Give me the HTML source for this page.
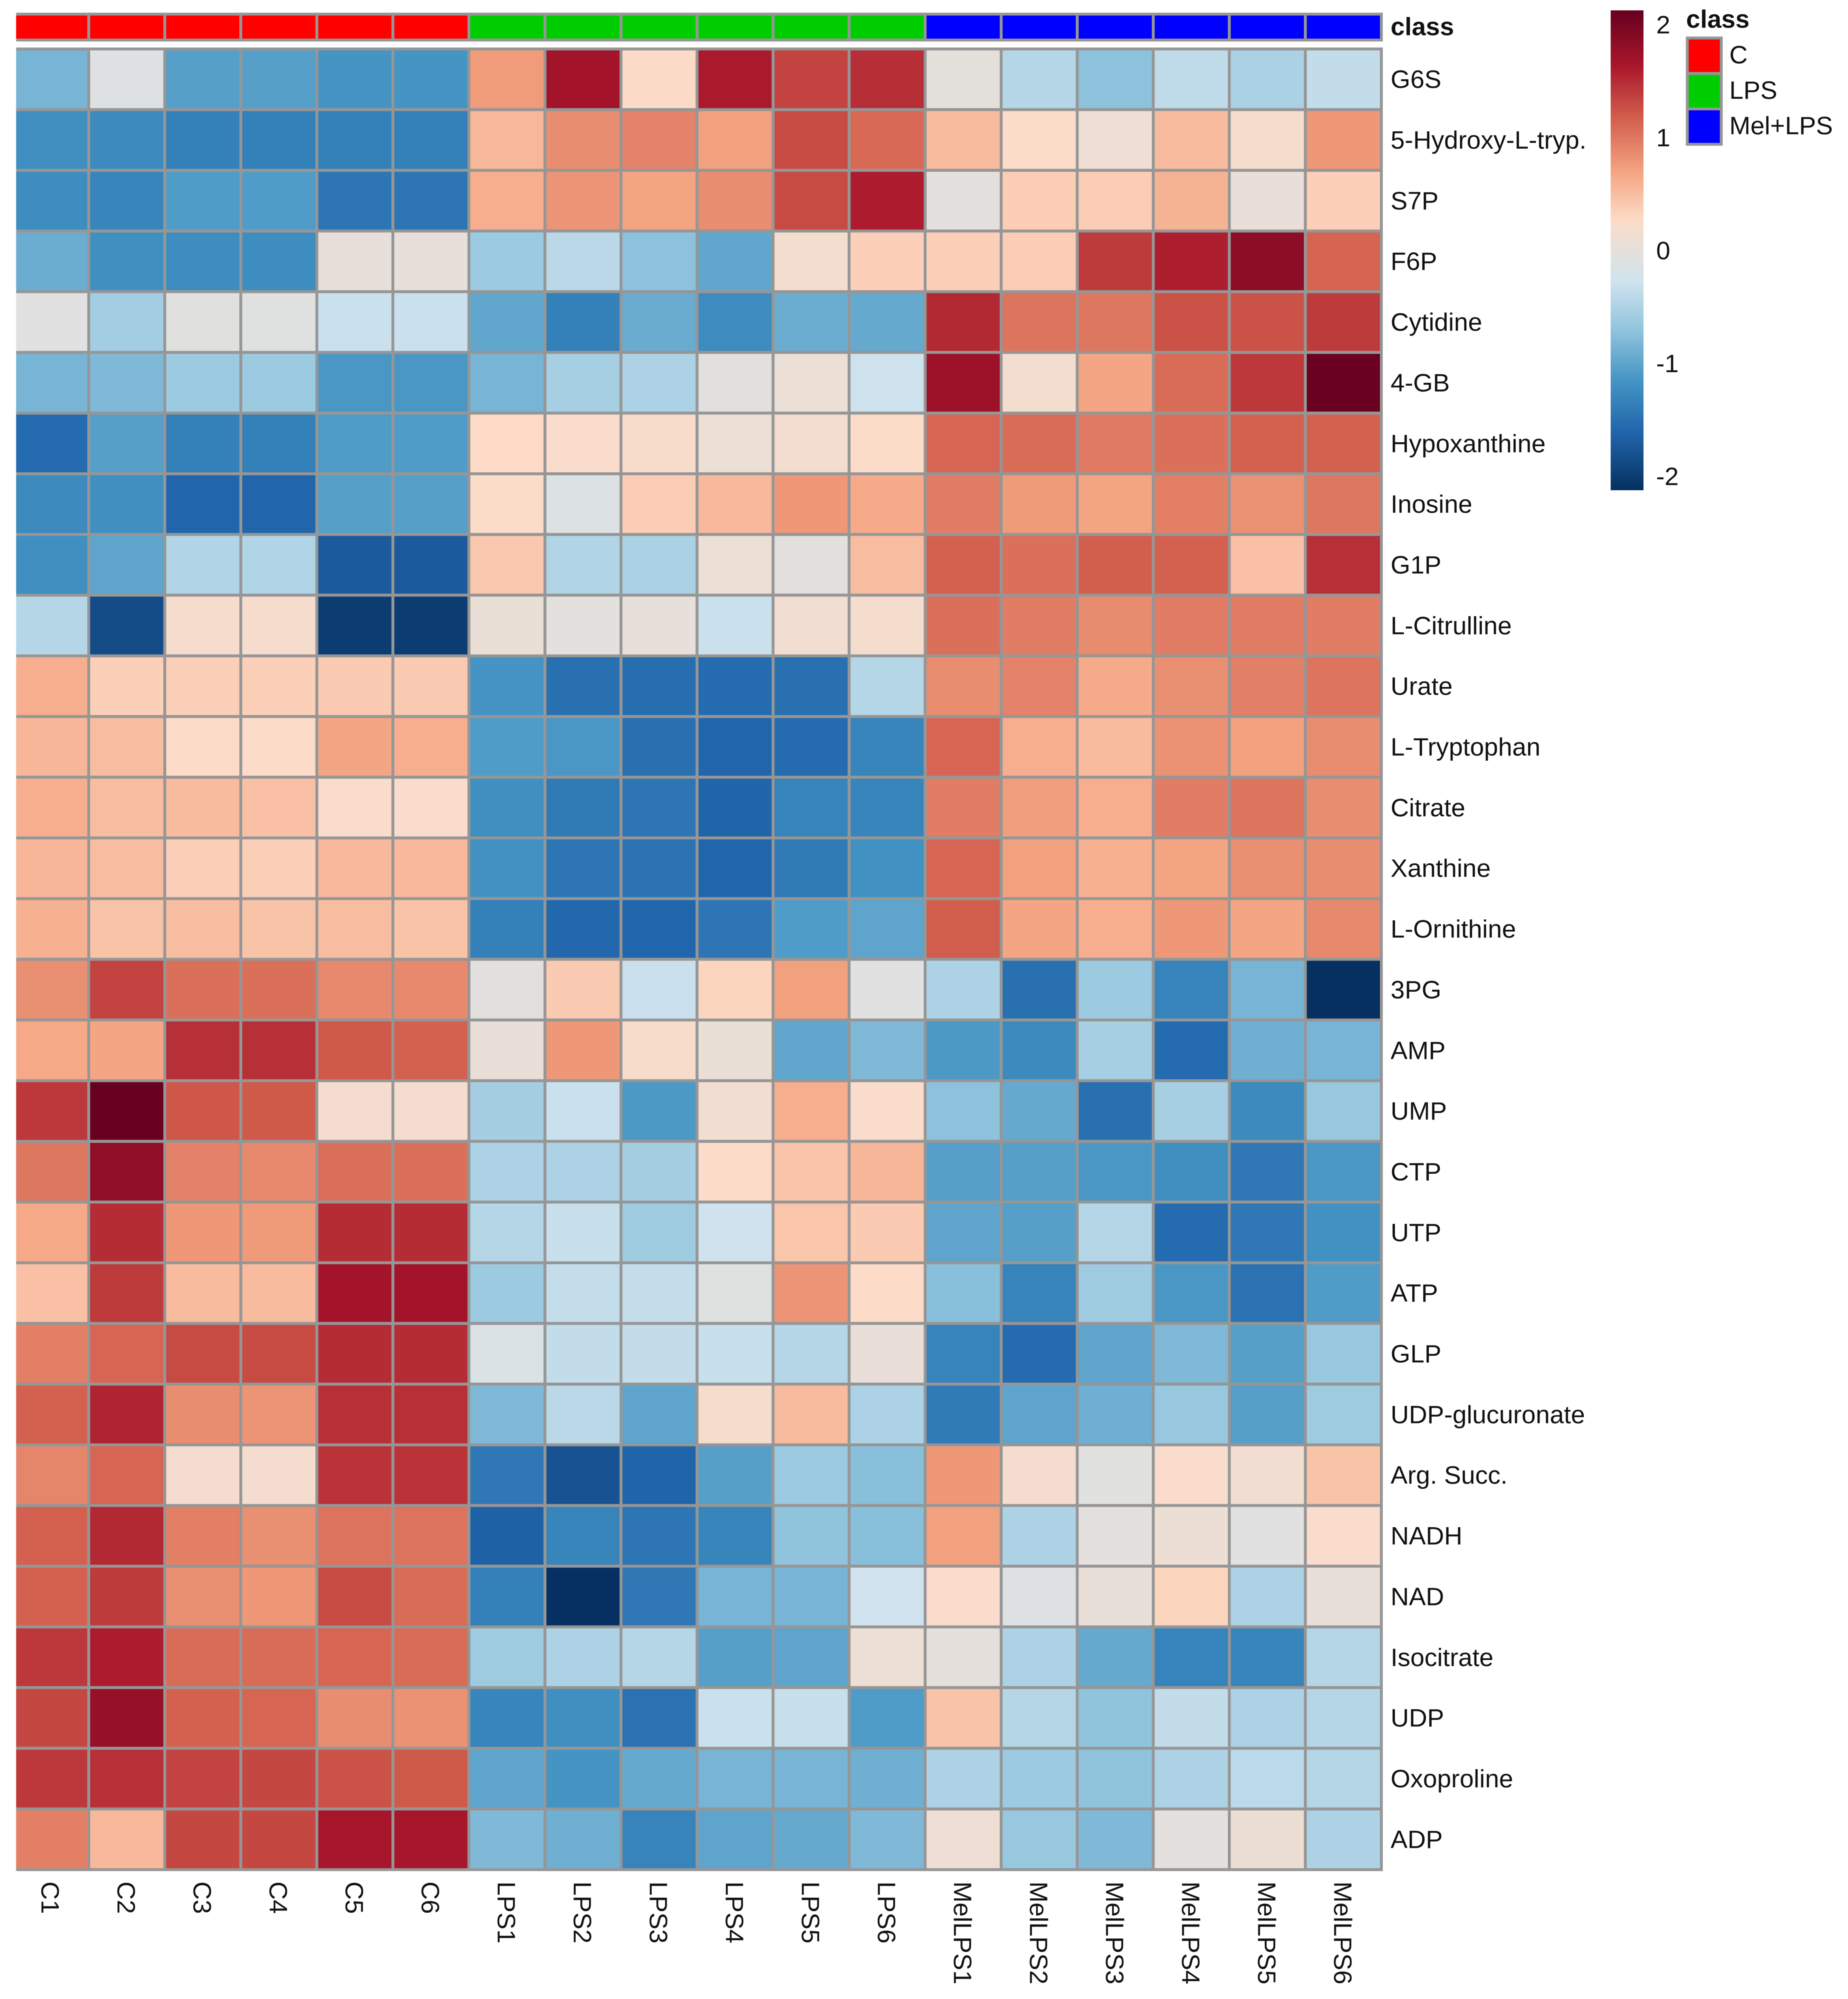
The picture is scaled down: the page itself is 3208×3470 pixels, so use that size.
<!DOCTYPE html>
<html lang="en">
<head>
<meta charset="utf-8">
<title>Metabolite heatmap</title>
<style>
html,body{margin:0;padding:0;background:#fff;width:3208px;height:3470px;overflow:hidden}
svg{display:block;font-family:"Liberation Sans",sans-serif;filter:blur(0.7px)}
text{fill:#111}
</style>
</head>
<body>
<svg id="chart" xmlns="http://www.w3.org/2000/svg" width="3208" height="3470" viewBox="0 0 3208 3470">
<defs>
<clipPath id="grid-clip"><rect x="28" y="0" width="2380" height="3400"/></clipPath>
<linearGradient id="scale-gradient" x1="0" y1="0" x2="0" y2="1"></linearGradient>
</defs>
<rect x="0" y="0" width="3208" height="3470" fill="#ffffff"/>
<g id="annotation" clip-path="url(#grid-clip)"></g>
<g id="cells" clip-path="url(#grid-clip)"></g>
<g id="rowlabels"></g>
<g id="collabels"></g>
<text x="2414" y="61" font-size="44" font-weight="700">class</text>
<rect id="scale-bar" x="2796" y="18" width="57" height="833" fill="url(#scale-gradient)"/>
<g id="scaleticks"></g>
<text x="2927" y="48" font-size="44" font-weight="700">class</text>
<g id="legend"></g>
</svg>
<script>
const rowNames = ["G6S","5-Hydroxy-L-tryp.","S7P","F6P","Cytidine","4-GB","Hypoxanthine","Inosine","G1P","L-Citrulline","Urate","L-Tryptophan","Citrate","Xanthine","L-Ornithine","3PG","AMP","UMP","CTP","UTP","ATP","GLP","UDP-glucuronate","Arg. Succ.","NADH","NAD","Isocitrate","UDP","Oxoproline","ADP"];
const colNames = ["C1","C2","C3","C4","C5","C6","LPS1","LPS2","LPS3","LPS4","LPS5","LPS6","MelLPS1","MelLPS2","MelLPS3","MelLPS4","MelLPS5","MelLPS6"];
const colClasses = ["C","C","C","C","C","C","LPS","LPS","LPS","LPS","LPS","LPS","Mel+LPS","Mel+LPS","Mel+LPS","Mel+LPS","Mel+LPS","Mel+LPS"];
const classNames = ["C","LPS","Mel+LPS"];
const classColors = ["#ff0000","#00cd00","#0000ff"];
const values = [
[-0.85,-0.1,-1.05,-1.05,-1.15,-1.15, 0.75,1.68,0.25,1.62,1.35,1.48, -0.02,-0.45,-0.72,-0.38,-0.52,-0.36],
[-1.2,-1.25,-1.35,-1.35,-1.35,-1.35, 0.55,0.85,0.92,0.72,1.3,1.1, 0.52,0.24,0.1,0.52,0.18,0.78],
[-1.22,-1.3,-1.08,-1.08,-1.45,-1.45, 0.62,0.8,0.7,0.85,1.3,1.6, -0.03,0.38,0.38,0.58,0.04,0.36],
[-0.92,-1.2,-1.22,-1.22,0.02,0.02, -0.62,-0.42,-0.72,-0.98,0.16,0.36, 0.36,0.38,1.4,1.58,1.85,1.13],
[-0.07,-0.58,-0.06,-0.08,-0.3,-0.3, -0.98,-1.35,-0.93,-1.24,-0.92,-0.95, 1.52,1.02,1.0,1.25,1.25,1.4],
[-0.85,-0.8,-0.62,-0.62,-1.12,-1.12, -0.85,-0.55,-0.5,-0.04,0.08,-0.28, 1.72,0.16,0.68,1.08,1.42,2.1],
[-1.55,-1.05,-1.35,-1.35,-1.08,-1.08, 0.27,0.22,0.2,0.08,0.15,0.24, 1.12,1.08,0.98,1.05,1.15,1.15],
[-1.25,-1.2,-1.6,-1.6,-1.05,-1.05, 0.24,-0.12,0.38,0.54,0.78,0.64, 0.96,0.76,0.7,0.95,0.82,1.0],
[-1.2,-1.0,-0.48,-0.48,-1.72,-1.72, 0.42,-0.48,-0.52,0.08,-0.04,0.5, 1.15,1.05,1.17,1.15,0.48,1.47],
[-0.45,-1.85,0.19,0.19,-2.0,-2.0, 0.05,-0.03,0.02,-0.3,0.14,0.18, 1.05,0.96,0.86,0.96,0.96,0.96],
[0.62,0.36,0.36,0.36,0.4,0.4, -1.15,-1.5,-1.52,-1.55,-1.5,-0.45, 0.85,0.92,0.64,0.84,0.94,1.02],
[0.56,0.5,0.26,0.26,0.68,0.62, -1.08,-1.12,-1.5,-1.6,-1.55,-1.3, 1.12,0.62,0.52,0.82,0.72,0.85],
[0.62,0.5,0.52,0.48,0.22,0.22, -1.2,-1.4,-1.45,-1.62,-1.32,-1.3, 0.96,0.74,0.62,0.96,1.02,0.85],
[0.56,0.5,0.36,0.36,0.54,0.54, -1.18,-1.45,-1.48,-1.6,-1.4,-1.18, 1.12,0.72,0.6,0.7,0.84,0.85],
[0.6,0.46,0.5,0.46,0.5,0.46, -1.35,-1.58,-1.6,-1.45,-1.08,-1.0, 1.18,0.68,0.62,0.78,0.68,0.88],
[0.84,1.35,1.05,1.05,0.88,0.88, -0.04,0.4,-0.3,0.32,0.72,-0.07, -0.5,-1.5,-0.62,-1.32,-0.85,-2.12],
[0.66,0.68,1.47,1.47,1.2,1.15, 0.04,0.78,0.2,0.05,-0.98,-0.8, -1.1,-1.25,-0.55,-1.55,-0.9,-0.85],
[1.42,2.12,1.22,1.2,0.17,0.17, -0.56,-0.3,-1.1,0.14,0.62,0.22, -0.72,-0.95,-1.5,-0.55,-1.25,-0.65],
[1.0,1.82,0.93,0.88,1.05,1.05, -0.5,-0.5,-0.56,0.26,0.45,0.56, -1.05,-1.05,-1.12,-1.2,-1.42,-1.12],
[0.66,1.5,0.78,0.76,1.5,1.5, -0.45,-0.32,-0.6,-0.27,0.44,0.4, -1.0,-1.05,-0.45,-1.55,-1.42,-1.18],
[0.48,1.4,0.52,0.52,1.68,1.68, -0.62,-0.35,-0.35,-0.08,0.8,0.26, -0.75,-1.32,-0.6,-1.12,-1.48,-1.08],
[0.95,1.12,1.3,1.3,1.5,1.5, -0.13,-0.36,-0.36,-0.32,-0.45,0.04, -1.32,-1.55,-1.0,-0.8,-1.05,-0.65],
[1.15,1.55,0.85,0.8,1.47,1.47, -0.8,-0.42,-1.0,0.18,0.52,-0.5, -1.4,-1.0,-0.9,-0.65,-1.05,-0.6],
[0.9,1.12,0.17,0.17,1.45,1.45, -1.42,-1.78,-1.62,-1.05,-0.62,-0.75, 0.78,0.17,-0.05,0.22,0.14,0.46],
[1.15,1.52,0.95,0.84,1.03,1.03, -1.65,-1.3,-1.45,-1.3,-0.7,-0.75, 0.72,-0.5,-0.03,0.09,-0.07,0.22],
[1.15,1.4,0.84,0.78,1.3,1.08, -1.35,-2.12,-1.42,-0.85,-0.85,-0.26, 0.22,-0.09,0.03,0.32,-0.5,0.03],
[1.42,1.6,1.08,1.08,1.12,1.08, -0.6,-0.5,-0.45,-1.05,-1.0,0.08, 0.0,-0.5,-0.95,-1.32,-1.3,-0.45],
[1.32,1.78,1.15,1.12,0.85,0.82, -1.3,-1.2,-1.48,-0.3,-0.32,-1.08, 0.46,-0.45,-0.7,-0.36,-0.5,-0.45],
[1.42,1.47,1.35,1.32,1.25,1.2, -1.0,-1.15,-0.95,-0.85,-0.85,-0.9, -0.5,-0.62,-0.7,-0.5,-0.4,-0.45],
[0.95,0.54,1.32,1.32,1.65,1.65, -0.8,-0.9,-1.32,-1.0,-0.95,-0.8, 0.1,-0.65,-0.8,-0.03,0.09,-0.5]
];
const scaleStopValues = [2.13,1.64,1.2,0.69,0.27,0,-0.26,-0.69,-1.16,-1.6,-2.12];
const scaleStopColors = ["#67001f","#a8162b","#d05a4a","#f4a582","#fddbc7","#e5e0db","#d1e3ee","#92c5de","#4393c3","#2166ac","#053061"];
const tickValues = [2,1,0,-1,-2];
const tickLabels = ["2","1","0","-1","-2"];

const NS = "http://www.w3.org/2000/svg";
const gridLeft = 22, colStep = 132, gridTop = 85, rowStep = 105.35;
const barTop = 24.5, barHeight = 45;
const scaleZeroY = 435, scalePerUnit = 196;
const gridLine = "#969696", gridWidth = 5;

function xAt(c){ return gridLeft + colStep * c; }
function yAt(r){ return gridTop + rowStep * r; }
function scaleY(v){ return scaleZeroY - scalePerUnit * v; }
function hexToRgb(h){ return [parseInt(h.slice(1,3),16),parseInt(h.slice(3,5),16),parseInt(h.slice(5,7),16)]; }
function colorFor(v){
  if (v >= scaleStopValues[0]) return scaleStopColors[0];
  const last = scaleStopValues.length - 1;
  if (v <= scaleStopValues[last]) return scaleStopColors[last];
  for (let i = 0; i < last; i++) {
    const hi = scaleStopValues[i], lo = scaleStopValues[i + 1];
    if (v <= hi && v >= lo) {
      const t = (hi - v) / (hi - lo);
      const a = hexToRgb(scaleStopColors[i]), b = hexToRgb(scaleStopColors[i + 1]);
      return "rgb(" + a.map((x, k) => Math.round(x + (b[k] - x) * t)).join(",") + ")";
    }
  }
  return "#e5e0db";
}
function make(tag, attrs, parent){
  const el = document.createElementNS(NS, tag);
  for (const k in attrs) el.setAttribute(k, attrs[k]);
  parent.appendChild(el);
  return el;
}

const annotationG = document.getElementById("annotation");
colClasses.forEach(function(cls, c){
  const r = make("rect", {x:xAt(c), y:barTop, width:colStep, height:barHeight, fill:classColors[classNames.indexOf(cls)], stroke:gridLine, "stroke-width":gridWidth}, annotationG);
  
  
});

const cellsG = document.getElementById("cells");
values.forEach(function(row, r){
  row.forEach(function(v, c){
    const cell = make("rect", {x:xAt(c), y:yAt(r), width:colStep, height:rowStep, fill:colorFor(v), stroke:gridLine, "stroke-width":gridWidth}, cellsG);
    
    
  });
});

const rowG = document.getElementById("rowlabels");
rowNames.forEach(function(name, r){
  const t = make("text", {x:2414, y:yAt(r) + rowStep / 2 + 15, "font-size":44}, rowG);
  t.textContent = name;
  
  
});

const colG = document.getElementById("collabels");
colNames.forEach(function(name, c){
  const x = xAt(c) + colStep / 2 - 16;
  const t = make("text", {x:x, y:3266, "font-size":44, transform:"rotate(90 " + x + " 3266)"}, colG);
  t.textContent = name;
  
  
});

const grad = document.getElementById("scale-gradient");
const scaleTop = 18, scaleBottom = 851;
scaleStopValues.forEach(function(v, i){
  const off = (scaleY(v) - scaleTop) / (scaleBottom - scaleTop);
  make("stop", {offset:Math.max(0, Math.min(1, off)), "stop-color":scaleStopColors[i]}, grad);
});

const tickG = document.getElementById("scaleticks");
tickValues.forEach(function(v, i){
  const t = make("text", {x:2875, y:scaleY(v) + 15, "font-size":44}, tickG);
  t.textContent = tickLabels[i];
  
  
});

const legendG = document.getElementById("legend");
classNames.forEach(function(name, i){
  const y = 66 + 61.5 * i;
  const box = make("rect", {x:2929, y:y, width:59, height:61.5, fill:classColors[i], stroke:gridLine, "stroke-width":gridWidth}, legendG);
  
  
  const t = make("text", {x:3002, y:y + 30.75 + 13, "font-size":44}, legendG);
  t.textContent = name;
  
  
});
</script>
</body>
</html>
